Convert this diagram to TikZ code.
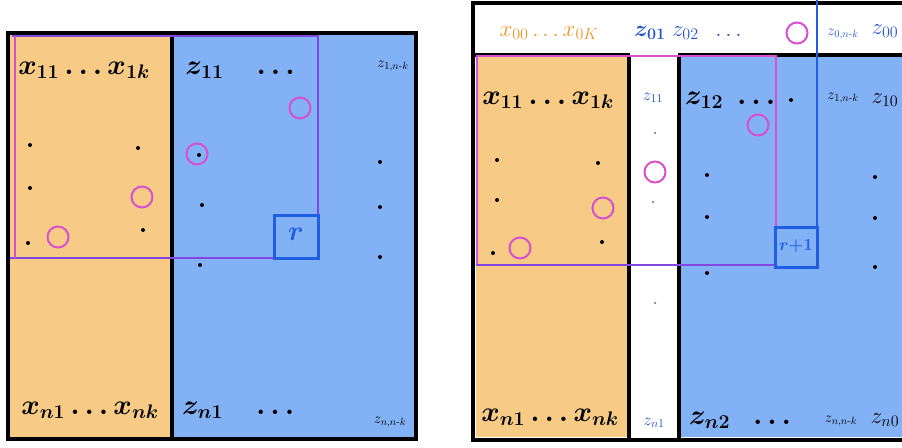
\RequirePackage{fix-cm}
\documentclass[tikz,border=0pt]{standalone}
\usepackage{amsmath}
\definecolor{orangeC}{RGB}{247,203,133}
\definecolor{blueC}{RGB}{130,178,245}
\definecolor{pinkC}{RGB}{216,80,208}
\definecolor{purpleC}{RGB}{130,70,225}
\definecolor{blueL}{RGB}{30,95,225}
\definecolor{textO}{RGB}{235,150,40}
\definecolor{textB}{RGB}{35,85,205}
\tikzset{
  blk/.style={draw=black, line width=4pt},
  dotm/.style={circle, fill=black, inner sep=0pt, minimum size=4pt},
  pcirc/.style={circle, draw=pinkC, line width=2pt, inner sep=0pt, minimum width=19pt, minimum height=21pt},
  big/.style={font=\fontsize{28}{30}\selectfont\boldmath, inner sep=0pt},
  mid/.style={font=\fontsize{23}{25}\selectfont, inner sep=0pt},
  wcol/.style={font=\fontsize{17}{19}\selectfont, inner sep=0pt},
  small/.style={font=\fontsize{15}{17}\selectfont, inner sep=0pt},
}
\begin{document}
\begin{tikzpicture}[x=1pt,y=-1pt]
\useasboundingbox (0,0) rectangle (902,447);
\clip (0,0) rectangle (902,447);
% ---------------- left matrix ----------------
\fill[orangeC] (9,33) rectangle (172,438);
\fill[blueC] (172,33) rectangle (416,438);
\draw[blk] (8,33) rectangle (416,439);
\draw[blk] (172,33) -- (172,439);
\draw[purpleC, line width=2pt] (12,36) -- (318,36) -- (318,258) -- (10,258);
\draw[pinkC, line width=2pt] (15,36) -- (15,258);
\draw[blueL, line width=3pt] (274,215) rectangle (318,258);
\node[font=\fontsize{28}{30}\selectfont\boldmath, text=blueL] (r) at (296,234) {$r$};
\node[big] (lx1) at (84,70) {$x_{11}\ldots x_{1k}$};
\node[big] (lz1) at (240,70) {$z_{11}\quad\ldots$};
\node[small] (lzr) at (393,66) {$z_{1,n\text{-}k}$};
\node[big] (lxn) at (90,410) {$x_{n1}\ldots x_{nk}$};
\node[big] (lzn) at (238,410) {$z_{n1}\quad\ldots$};
\node[small] (lznr) at (390,422) {$z_{n,n\text{-}k}$};
% dots
\foreach \p/\n in {{30,145}/a1,{138,148}/a2,{30,188}/a3,{28,243}/a4,{143,230}/a5,
  {199,155}/a6,{202,205}/a7,{200,265}/a8,{380,162}/a9,{380,207}/a10,{380,257}/a11}
  \node[dotm] (\n) at (\p) {};
\foreach \p/\n in {{142,197}/c1,{58,237}/c2,{300,108}/c3,{197,154}/c4}
  \node[pcirc] (\n) at (\p) {};
% ---------------- right matrix ----------------
\fill[orangeC] (476,55) rectangle (628,437);
\fill[blueC] (680,55) rectangle (905,437);
\draw[blk] (473,3) -- (905,3);
\draw[blk] (473,1) -- (473,440) -- (905,440);
\draw[blk] (473,55) -- (630,55);
\draw[blk] (678,55) -- (905,55);
\draw[blk] (629,55) -- (629,440);
\draw[blk] (679,55) -- (679,440);
\draw[pinkC, line width=1.5pt] (476,56) -- (776,56) -- (776,265);
\draw[pinkC, line width=2pt] (477,56) -- (477,265);
\draw[purpleC, line width=2pt] (476,265) -- (776,265);
\draw[blueL, line width=2pt] (817,0) -- (817,227);
\draw[blueL, line width=3pt] (775,227) rectangle (817,267);
\node[font=\fontsize{17}{19}\selectfont\boldmath, text=blueL] (r1) at (796,246) {$r{+}1$};
% top row
\node[mid, text=textO] (x0) at (549,33) {$x_{00}\ldots x_{0K}$};
\node[mid, text=textB] (z0) at (688,33) {$\boldsymbol{z_{01}}\; z_{02}\;\;\ldots$};
\node[small, text=textB] (z0r) at (843,34) {$z_{0,n\text{-}k}$};
\node[mid, text=textB] (z00) at (885,31) {$z_{00}$};
\node[pcirc] (c0) at (797,33) {};
% second row
\node[big] (rx1) at (548,100) {$x_{11}\ldots x_{1k}$};
\node[wcol, text=textB] (rz11) at (653,98) {$z_{11}$};
\node[big] (rz12) at (730,100) {$z_{12}\;\ldots$};
\node[small] (rz1r) at (843,98) {$z_{1,n\text{-}k}$};
\node[mid] (rz10) at (885,100) {$z_{10}$};
% bottom row
\node[big] (rxn) at (550,417) {$x_{n1}\ldots x_{nk}$};
\node[wcol, text=textB] (rzn1) at (654,423) {$z_{n1}$};
\node[big] (rzn2) at (740,420) {$z_{n2}\;\;\ldots$};
\node[small] (rznr) at (841,421) {$z_{n,n\text{-}k}$};
\node[mid] (rzn0) at (885,420) {$z_{n0}$};
% dots
\foreach \p/\n in {{497,160}/b1,{598,163}/b2,{497,200}/b3,{602,242}/b4,{493,253}/b5,
  {707,175}/b6,{707,217}/b7,{707,273}/b8,{875,177}/b9,{875,218}/b10,{875,267}/b11,
  {791,100}/b12}
  \node[dotm] (\n) at (\p) {};
\foreach \p/\n in {{655,133}/w1,{653,202}/w2,{655,303}/w3}
  \node[dotm, minimum size=2.5pt, fill=gray] (\n) at (\p) {};
\foreach \p/\n in {{603,208}/d1,{520,248}/d2,{655,172}/d3,{758,125}/d4}
  \node[pcirc] (\n) at (\p) {};
\end{tikzpicture}
\end{document}
